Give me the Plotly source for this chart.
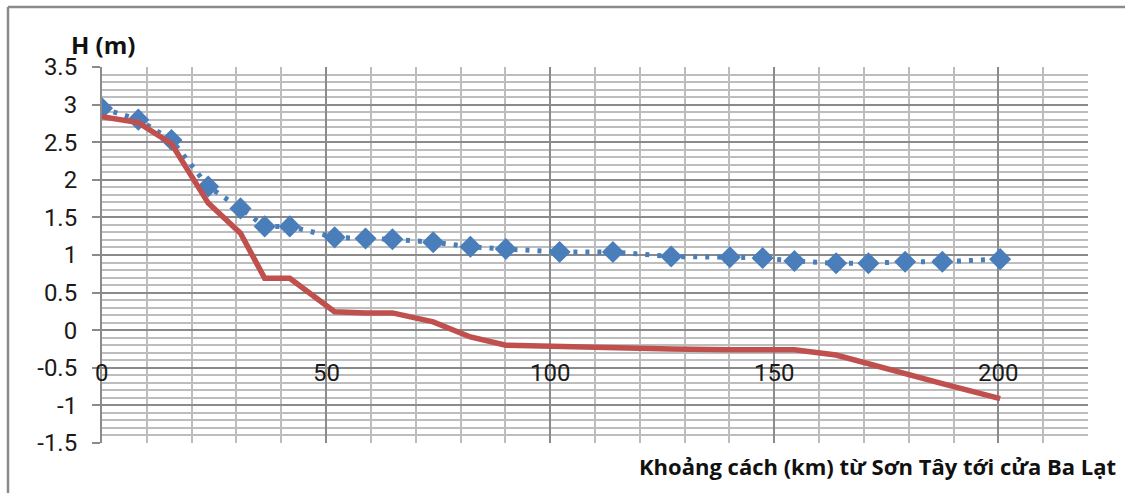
import plotly.graph_objects as go

# Distance from Son Tay (km) at each station
distance_km = [0, 8.1, 15.5, 23.7, 30.9, 36.3, 41.9, 51.9, 58.8, 64.8, 73.9, 82.2,
               90.1, 102.1, 114, 127, 140.1, 147.4, 154.5, 163.8, 171, 179.2, 187.5, 200.4]

# Water level series (m)
h_diamond = [2.95, 2.80, 2.53, 1.91, 1.62, 1.38, 1.38, 1.235, 1.22, 1.21, 1.17, 1.11,
             1.08, 1.04, 1.04, 0.98, 0.97, 0.96, 0.92, 0.89, 0.89, 0.91, 0.91, 0.945]
h_line = [2.84, 2.76, 2.48, 1.69, 1.29, 0.69, 0.69, 0.246, 0.23, 0.23, 0.11, -0.09,
          -0.20, -0.22, -0.23, -0.25, -0.26, -0.26, -0.26, -0.33, -0.44, -0.58, -0.71, -0.91]

x_tick_values = [0, 50, 100, 150, 200]
x_tick_labels = ["0", "50", "100", "150", "200"]
y_tick_values = [3.5, 3, 2.5, 2, 1.5, 1, 0.5, 0, -0.5, -1, -1.5]
y_tick_labels = ["3.5", "3", "2.5", "2", "1.5", "1", "0.5", "0", "-0.5", "-1", "-1.5"]

W, H = 1125, 493
L, R, T, B = 102, 37, 67, 50
PW, PH = W - L - R, H - T - B


def px(xp):
    return (xp - L) / PW


def py(yp):
    return (H - B - yp) / PH


MAJOR = "#8a8a8a"
MINOR = "#bdbdbd"
TICK_FONT = dict(family="Roboto", size=24, color="#1a1a1a")
TITLE_FONT = dict(family="Open Sans", size=22, color="#111111")

fig = go.Figure()

fig.add_trace(go.Scatter(
    x=distance_km, y=h_diamond, mode="lines+markers",
    line=dict(color="#4a7ebb", width=5, dash="4px,8px"),
    marker=dict(symbol="diamond", size=17, color="#4a7ebb"),
    showlegend=False,
))
fig.add_trace(go.Scatter(
    x=distance_km, y=h_line, mode="lines",
    line=dict(color="#c0504d", width=5.5),
    showlegend=False,
))

# x tick labels sit on the -0.5 line inside the plot
for v, t in zip(x_tick_values, x_tick_labels):
    fig.add_annotation(x=v, y=-0.5, xref="x", yref="y", text=t, showarrow=False,
                       xanchor="center", yanchor="middle", yshift=-5, font=TICK_FONT)

fig.add_annotation(x=px(103), y=py(45), xref="paper", yref="paper", text="<b>H (m)</b>",
                   showarrow=False, xanchor="center", yanchor="middle",
                   font=dict(family="Open Sans", size=24, color="#111111"))
fig.add_annotation(x=px(1118), y=py(466), xref="paper", yref="paper",
                   text="<b>Khoảng cách (km) từ Sơn Tây tới cửa Ba Lạt</b>",
                   showarrow=False, xanchor="right", yanchor="middle", font=TITLE_FONT)

# outer frame (left and top edges)
fig.add_shape(type="line", xref="paper", yref="paper", x0=px(8), x1=px(8), y0=py(7), y1=py(520),
              line=dict(color="#8a8a8a", width=2.5))
fig.add_shape(type="line", xref="paper", yref="paper", x0=px(8), x1=px(1140), y0=py(7), y1=py(7),
              line=dict(color="#8a8a8a", width=2.5))

fig.update_xaxes(
    range=[0, 220], dtick=50, tick0=0, showticklabels=False, ticks="",
    showgrid=True, gridcolor=MAJOR, gridwidth=2,
    minor=dict(dtick=10, tick0=0, showgrid=True, gridcolor=MINOR, gridwidth=2),
    zeroline=False, showline=False,
)
fig.update_yaxes(
    range=[-1.5, 3.5], tickvals=y_tick_values, ticktext=y_tick_labels,
    ticks="outside", ticklen=8, tickcolor=MAJOR, tickwidth=2, ticklabelstandoff=10,
    tickfont=TICK_FONT,
    showgrid=True, gridcolor=MAJOR, gridwidth=2,
    minor=dict(dtick=0.1, tick0=0, showgrid=True, gridcolor=MINOR, gridwidth=2),
    zeroline=False, showline=True, linecolor=MAJOR, linewidth=2,
)

fig.update_layout(
    width=W, height=H,
    margin=dict(l=L, r=R, t=T, b=B),
    paper_bgcolor="white", plot_bgcolor="white",
)

fig.write_html("out.html")
